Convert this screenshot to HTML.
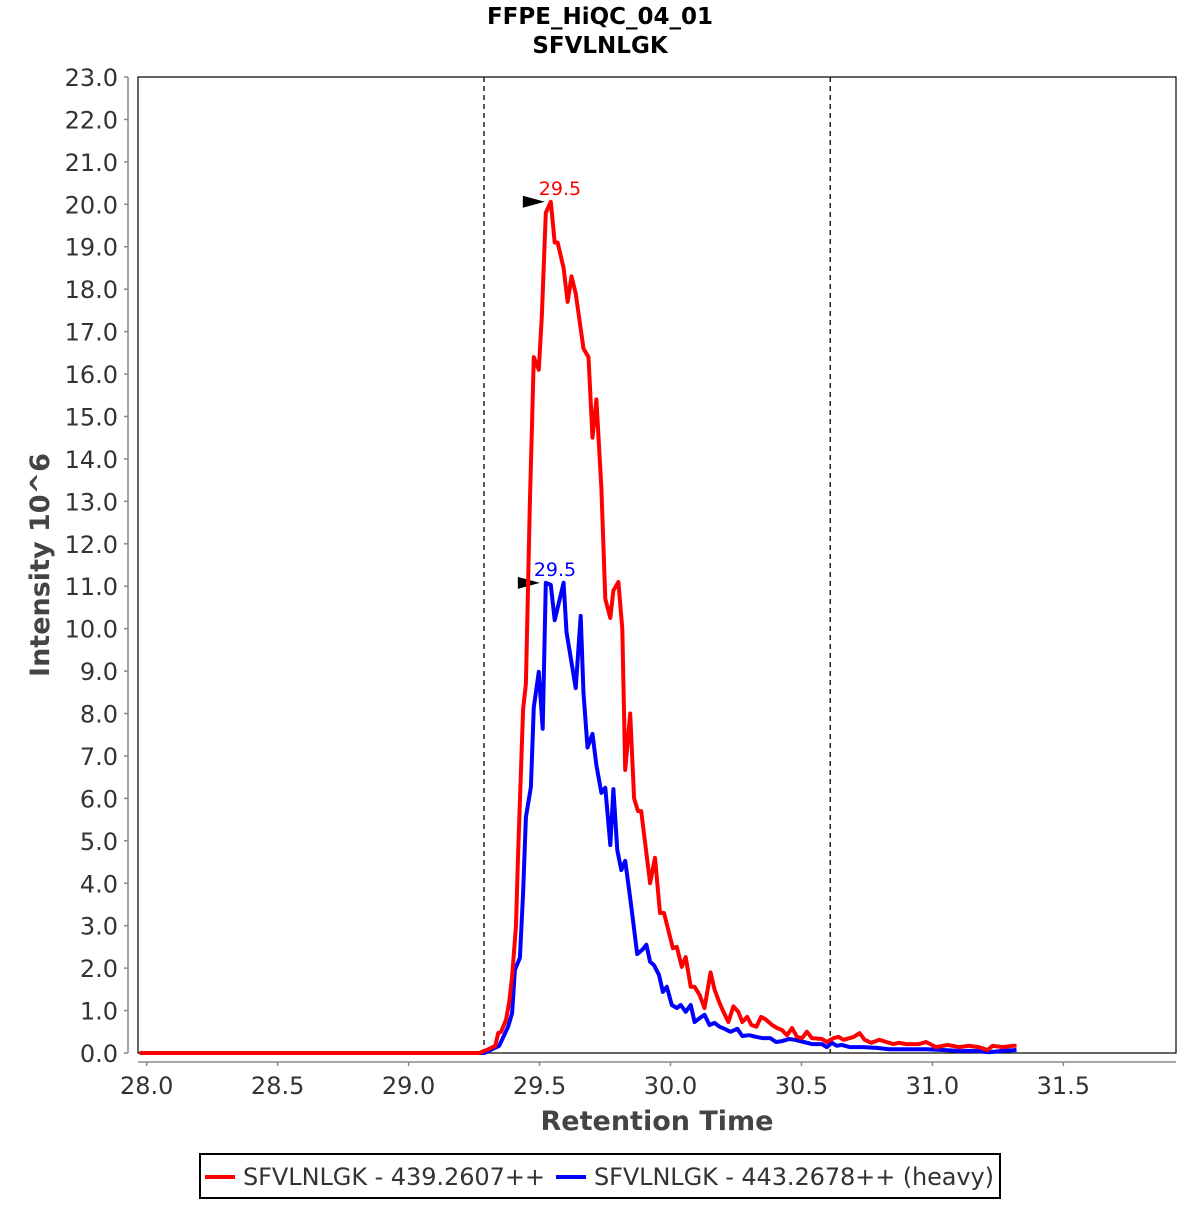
<!DOCTYPE html>
<html><head><meta charset="utf-8"><style>
body{margin:0;background:#fff;}
svg text{font-family:"DejaVu Sans","Liberation Sans",sans-serif;}
</style></head><body>
<svg id="chart" width="1200" height="1200" xmlns="http://www.w3.org/2000/svg">
<rect width="1200" height="1200" fill="#fff"/>
<text x="600" y="24" font-size="23" font-weight="bold" text-anchor="middle">FFPE_HiQC_04_01</text>
<text x="600" y="53" font-size="23" font-weight="bold" text-anchor="middle">SFVLNLGK</text>
<rect x="138" y="77" width="1038" height="976" fill="#fff" stroke="#000" stroke-width="1.2"/>
<g id="grid"></g>
<g id="series"></g>
<g id="xaxis"></g>
<g id="yaxis"></g>
<text x="657" y="1130" font-size="27" font-weight="bold" fill="#444" text-anchor="middle">Retention Time</text>
<text transform="translate(49,565) rotate(-90)" font-size="27" font-weight="bold" fill="#444" text-anchor="middle">Intensity 10^6</text>
<g>
<rect x="200" y="1154" width="800" height="44" fill="#fff" stroke="#000" stroke-width="2"/>
<line x1="205" y1="1177" x2="235" y2="1177" stroke="#f00" stroke-width="4"/>
<text x="243" y="1185" font-size="24" fill="#333" textLength="302">SFVLNLGK - 439.2607++</text>
<line x1="556" y1="1177" x2="586" y2="1177" stroke="#00f" stroke-width="4"/>
<text x="594" y="1185" font-size="24" fill="#333" textLength="400">SFVLNLGK - 443.2678++ (heavy)</text>
</g>
</svg>
<script>
const xTicks=[28.0,28.5,29.0,29.5,30.0,30.5,31.0,31.5];
const yTicks=[0,1,2,3,4,5,6,7,8,9,10,11,12,13,14,15,16,17,18,19,20,21,22,23];
const boundaryTimes=[29.288,30.61];
const redTimes=[27.973,29.270,29.308,29.331,29.342,29.353,29.372,29.384,29.395,29.410,29.418,29.437,29.448,29.463,29.471,29.478,29.497,29.509,29.524,29.543,29.558,29.569,29.592,29.607,29.622,29.638,29.668,29.687,29.702,29.717,29.736,29.751,29.770,29.782,29.801,29.816,29.827,29.846,29.861,29.876,29.888,29.922,29.941,29.960,29.975,30.009,30.024,30.043,30.058,30.077,30.092,30.111,30.130,30.153,30.168,30.187,30.202,30.221,30.240,30.259,30.274,30.293,30.309,30.328,30.346,30.362,30.388,30.407,30.426,30.445,30.464,30.483,30.502,30.521,30.540,30.578,30.597,30.623,30.642,30.661,30.699,30.722,30.741,30.767,30.798,30.824,30.851,30.873,30.900,30.949,30.976,31.014,31.059,31.101,31.139,31.177,31.211,31.230,31.268,31.306,31.321];
const redValues=[0,0,0.1,0.17,0.47,0.5,0.78,1.2,1.8,3.0,4.7,8.1,8.7,13.0,14.8,16.4,16.1,17.4,19.8,20.06,19.1,19.1,18.5,17.7,18.3,17.9,16.6,16.4,14.5,15.4,13.3,10.7,10.25,10.9,11.1,10.0,6.67,8.0,6.0,5.7,5.7,4.0,4.6,3.3,3.3,2.47,2.5,2.03,2.26,1.56,1.56,1.37,1.06,1.9,1.5,1.18,0.97,0.73,1.1,0.97,0.73,0.85,0.66,0.62,0.85,0.8,0.66,0.59,0.54,0.42,0.59,0.38,0.35,0.5,0.35,0.33,0.26,0.35,0.38,0.31,0.38,0.47,0.31,0.24,0.31,0.26,0.21,0.24,0.21,0.21,0.26,0.14,0.19,0.14,0.17,0.14,0.07,0.17,0.14,0.17,0.17];
const blueTimes=[27.973,29.289,29.346,29.365,29.380,29.395,29.406,29.425,29.437,29.448,29.467,29.478,29.497,29.512,29.524,29.543,29.558,29.592,29.603,29.638,29.657,29.668,29.683,29.702,29.717,29.736,29.751,29.770,29.782,29.797,29.812,29.827,29.846,29.857,29.873,29.892,29.908,29.922,29.937,29.956,29.971,29.986,30.005,30.024,30.039,30.058,30.077,30.092,30.111,30.130,30.149,30.168,30.187,30.206,30.229,30.255,30.274,30.301,30.328,30.350,30.381,30.403,30.426,30.453,30.475,30.509,30.540,30.578,30.597,30.616,30.635,30.654,30.684,30.737,30.786,30.835,30.873,30.926,30.976,31.040,31.101,31.165,31.215,31.268,31.321];
const blueValues=[0,0,0.17,0.42,0.62,0.94,1.96,2.24,3.77,5.56,6.27,8.15,8.98,7.64,11.08,11.03,10.2,11.08,9.92,8.6,10.3,8.48,7.2,7.52,6.78,6.13,6.25,4.9,6.22,4.78,4.31,4.53,3.65,3.13,2.33,2.43,2.55,2.15,2.07,1.84,1.44,1.56,1.13,1.06,1.13,0.97,1.13,0.73,0.82,0.9,0.66,0.71,0.62,0.57,0.5,0.57,0.4,0.42,0.38,0.35,0.35,0.26,0.28,0.33,0.31,0.26,0.21,0.21,0.14,0.24,0.17,0.19,0.14,0.14,0.12,0.09,0.09,0.09,0.09,0.07,0.05,0.05,0.02,0.05,0.07];

const NS="http://www.w3.org/2000/svg";
const X0=146.7,PXU=261.9,Y0=1053,PYU=(1053-77)/23;
function sx(t){return X0+(t-28)*PXU;}
function sy(v){return Y0-v*PYU;}
function mk(tag,attrs,parent){const e=document.createElementNS(NS,tag);for(const k in attrs)e.setAttribute(k,attrs[k]);parent.appendChild(e);return e;}
const xa=document.getElementById('xaxis'),ya=document.getElementById('yaxis'),gs=document.getElementById('series'),gg=document.getElementById('grid');

const xl=mk('line',{x1:138,y1:1062,x2:1176,y2:1062,stroke:'#888','stroke-width':1.5},xa);


xTicks.forEach(t=>{
  const x=sx(t);
  const tk=mk('line',{x1:x,y1:1062,x2:x,y2:1066,stroke:'#888','stroke-width':1.5},xa);
  
  
  const tx=mk('text',{x:x,y:1094,'font-size':24,fill:'#333','text-anchor':'middle'},xa);
  tx.textContent=t.toFixed(1);
  
  
});
const yl=mk('line',{x1:128,y1:77,x2:128,y2:1053,stroke:'#888','stroke-width':1.5},ya);


yTicks.forEach(v=>{
  const y=sy(v);
  const tk=mk('line',{x1:124,y1:y,x2:128,y2:y,stroke:'#888','stroke-width':1.5},ya);
  
  
  const tx=mk('text',{x:118,y:y+9,'font-size':24,fill:'#333','text-anchor':'end'},ya);
  tx.textContent=v.toFixed(1);
  
  
});
boundaryTimes.forEach(t=>{
  const l=mk('line',{x1:sx(t),y1:77,x2:sx(t),y2:1053,stroke:'#222','stroke-width':1.5,'stroke-dasharray':'5,4'},gg);
  
  
});
function drawSeries(times,vals,color,name,label){
  const pts=times.map((t,i)=>sx(t).toFixed(1)+','+sy(vals[i]).toFixed(1)).join(' ');
  const p=mk('polyline',{points:pts,fill:'none',stroke:color,'stroke-width':4,'stroke-linejoin':'round'},gs);
  
  
  let mi=0;vals.forEach((v,i)=>{if(v>vals[mi])mi=i;});
  const px=sx(times[mi]),py=sy(vals[mi]);
  const a=mk('polygon',{points:(px-28)+','+(py-6)+' '+(px-6)+','+py+' '+(px-28)+','+(py+6),fill:'#000'},gs);
  
  
  const tx=mk('text',{x:px-12,y:py-7,'font-size':19,fill:color},gs);
  tx.textContent=label;
  
  
}
drawSeries(blueTimes,blueValues,'#00f','heavy-series','29.5');
drawSeries(redTimes,redValues,'#f00','light-series','29.5');
</script>
</body></html>
